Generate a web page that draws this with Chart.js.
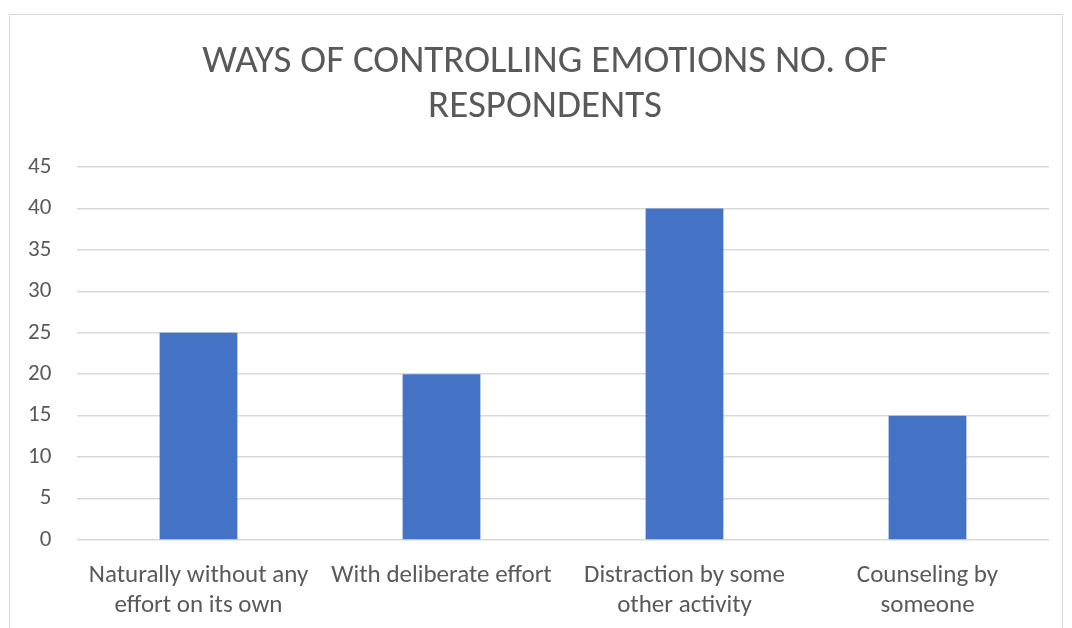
<!DOCTYPE html>
<html>
<head>
<meta charset="utf-8">
<script src="https://cdn.jsdelivr.net/npm/chart.js@4"></script>
<style>
  html, body { margin: 0; padding: 0; background: #fff; }
  #wrap { width: 1072px; height: 628px; }
</style>
</head>
<body>
<div id="wrap"><canvas id="bar"></canvas></div>
<script>
// data
const categories = [
  ['Naturally without any', 'effort on its own'],
  'With deliberate effort',
  ['Distraction by some', 'other activity'],
  ['Counseling by', 'someone']
];
const respondents = [25, 20, 40, 15];
const titleLines = ['WAYS OF CONTROLLING EMOTIONS NO. OF', 'RESPONDENTS'];

const grey = '#595959';
const fontFamily = 'Carlito, Lato, "Open Sans", sans-serif';

// frame around the chart area
const frame = {
  id: 'frame',
  beforeDraw(chart) {
    const ctx = chart.ctx;
    ctx.save();
    ctx.strokeStyle = '#d9d9d9';
    ctx.lineWidth = 1;
    ctx.strokeRect(9.5, 14.5, 1053, 700);
    ctx.restore();
  }
};

let barChart = document.querySelector('#bar');

let bar = new Chart(barChart, {
  type: 'bar',
  data: {
    labels: categories,
    datasets: [{
      label: 'No. of respondents',
      data: respondents,
      backgroundColor: '#4472C4',
      categoryPercentage: 1,
      barPercentage: 0.32
    }]
  },
  options: {
    responsive: true,
    maintainAspectRatio: false,
    animation: false,
    layout: { padding: { top: 40, right: 23, left: 41, bottom: 0 } },
    plugins: {
      legend: { display: false },
      tooltip: { enabled: false },
      title: {
        display: true,
        text: titleLines,
        color: grey,
        font: { family: fontFamily, size: 39, weight: 'normal', lineHeight: 1.154 },
        padding: { top: 0, bottom: 37 }
      }
    },
    scales: {
      x: {
        grid: { display: false },
        border: { display: false },
        ticks: {
          color: grey,
          font: { family: fontFamily, size: 25, lineHeight: 1.2 },
          maxRotation: 0,
          autoSkip: false,
          padding: 13
        },
        afterFit(scale) { scale.height = 88; }
      },
      y: {
        min: 0,
        max: 45,
        ticks: {
          stepSize: 5,
          color: grey,
          font: { family: fontFamily, size: 23 },
          // mirrored so the labels are not clipped to the narrow axis box
          mirror: true,
          crossAlign: 'far',
          padding: -49
        },
        grid: { color: '#d9d9d9', drawTicks: false, lineWidth: 1.5 },
        border: { display: false },
        afterFit(scale) { scale.width = 36; }
      }
    }
  },
  plugins: [frame]
});
</script>
</body>
</html>
